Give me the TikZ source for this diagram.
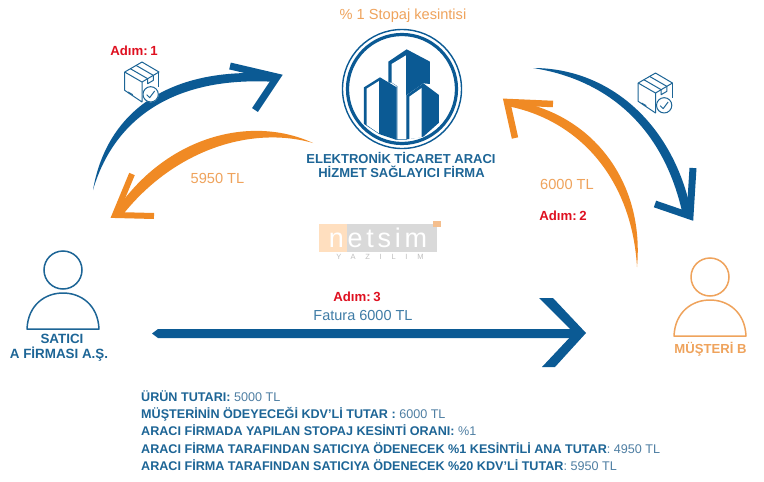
\documentclass[tikz,border=0pt]{standalone}
\usepackage{fontspec}
\setmainfont{Liberation Sans}
\definecolor{brandblue}{HTML}{0B5A94}
\definecolor{brandorange}{HTML}{F08A24}
\definecolor{softorange}{HTML}{EFA35C}
\definecolor{alertred}{HTML}{DF1020}
\definecolor{notegrey}{HTML}{4F7FA3}
\definecolor{headblue}{HTML}{1D6596}
\newcommand{\fs}[2]{\fontsize{#1}{#2}\selectfont}
\tikzset{
 x=1pt,y=-1pt,
 stepred/.style={text=alertred,font=\fs{13.2}{14}\bfseries,inner sep=0pt},
 amount/.style={text=softorange,font=\fs{14.6}{16},inner sep=0pt},
 title/.style={text=headblue,font=\fs{13}{14.5}\bfseries,inner sep=0pt,align=center},
 noteline/.style={anchor=base west,inner sep=0pt,text=notegrey,font=\fs{12.6}{14}},
 pics/boxicon/.style={code={
  \begin{scope}[x=.333pt,y=-.333pt,draw=headblue,line width=1pt,line join=round]
   \draw (-52,-60) -- (0,-90) -- (51,-60) -- (0,-30) -- cycle;
   \draw (-52,-60) -- (-52,-5) -- (0,30) -- (0,-30);
   \draw (51,-60) -- (51,-15);
   \draw (-35,-70) -- (17,-40) (-18,-80) -- (34,-50);
   \draw (17,-40) -- (17,-25) -- (34,-35) -- (34,-50);
   \draw (-42,0) -- (-28,8);
   \fill[white] (26,7) circle (24);
   \draw (26,7) circle (23);
   \draw (14,8) -- (23,17) -- (38,-3);
  \end{scope}}},
 pics/person/.style={code={
  \draw[line width=1.5pt,draw=#1] (0,0) circle (19);
  \draw[line width=1.5pt,draw=#1,line join=round] (-36,59) .. controls (-35,35) and (-18,23) .. (0,23) .. controls (18,23) and (35,35) .. (36,59) -- cycle;
 }}
}
\begin{document}
\begin{tikzpicture}
\useasboundingbox (0,0) rectangle (764,482);
\fill[white] (0,0) rectangle (764,482);

% watermark
\fill[orange!25!white] (319,224) rectangle (347,252);
\fill[black!15] (347,224) rectangle (437,252);
\fill[softorange!70!white] (433,221) rectangle (441,227);
\node[inner sep=0pt,text=white,font=\fs{27}{30}] (wm) at (378,238) {\addfontfeature{LetterSpace=14}netsim};
\node[inner sep=0pt,text=black!25,font=\fs{7.5}{9}] (wmsub) at (380,257) {\addfontfeature{LetterSpace=130}YAZILIM};

% building logo
\coordinate (logoC) at (402,89);
\draw[brandblue,line width=1.4pt] (logoC) circle (59.5);
\draw[brandblue,line width=3.2pt] (logoC) circle (54.5);
\begin{scope}[shift={(280,0)},x=.3333pt,y=-.3333pt]
 \fill[brandblue] (380,148) -- (450,185) -- (450,252) -- (430,250) -- (380,285) -- (380,420) -- (350,420) -- (350,258) -- (335,248) -- (325,248) -- (325,185) -- cycle;
 \fill[white] (335,192) -- (378,166) -- (378,418) -- (352,418) -- (352,258) -- (335,247) -- cycle;
 \fill[brandblue] (300,232) -- (350,262) -- (350,420) -- (297,402) -- (252,372) -- (252,262) -- cycle;
 \fill[white] (260,266) -- (297,243) -- (297,400) -- (260,375) -- cycle;
 \fill[brandblue] (430,250) -- (477,285) -- (477,368) -- (430,410) -- (381,418) -- (381,285) -- cycle;
 \fill[white] (388,290) -- (425,264) -- (425,412) -- (388,417) -- cycle;
\end{scope}

% end points of the connectors
\coordinate (a1s) at (93,190);
\coordinate (a1e) at (277,77);
\coordinate (o1s) at (313,143);
\coordinate (o1e) at (115,215);
\coordinate (a2s) at (533,68);
\coordinate (a2e) at (690,216);
\coordinate (o2s) at (637,267);
\coordinate (o2e) at (507,102);
\coordinate (fs) at (152,333.5);
\coordinate (fe) at (586,333);

% blue upper left arc
\fill[brandblue] (a1s) .. controls (106,115) and (165,65) .. (277,74) -- (277,82)
  .. controls (170,75) and (113,122) .. (a1s) -- cycle;
\draw[brandblue,line width=7pt] (230,66) -- (a1e) -- (255,110);
% orange left arc
\fill[brandorange] (o1s) .. controls (250,114) and (165,137) .. (115,212) -- (121,217)
  .. controls (172,151) and (250,125) .. (o1s) -- cycle;
\draw[brandorange,line width=6pt] (132,174) -- (o1e) -- (154,216);
% blue right arc
\fill[brandblue] (a2s) .. controls (610,68) and (675,125) .. (692,216) -- (683,216)
  .. controls (665,130) and (610,80) .. (a2s) -- cycle;
\draw[brandblue,line width=7pt] (693,168) -- (a2e) -- (655,204);
% orange right arc
\fill[brandorange] (o2s) .. controls (645,180) and (590,110) .. (507,100) -- (507,106)
  .. controls (580,120) and (632,180) .. (o2s) -- cycle;
\draw[brandorange,line width=6.5pt] (553,104) -- (o2e) -- (515,138);
% straight arrow
\fill[brandblue] (fs) -- (158,329) -- (575,329) -- (575,338) -- (158,338) -- cycle;
\fill[brandblue] (539,298) -- (553,298) -- (fe) -- (555,367) -- (542,367) -- (574,333) -- cycle;

% box icons
\pic at (142,92) {boxicon};
\pic at (655.5,103) {boxicon};

% people
\pic at (63,270) {person=headblue};
\pic at (710,277) {person=softorange};

% labels
\node[amount] (stopaj) at (403,16) {\% 1 Stopaj kesintisi};
\node[title] (firma) at (401,165) {ELEKTRONİK TİCARET ARACI\\\hspace*{1pt}HİZMET SAĞLAYICI FİRMA};
\node[stepred] (adim1) at (134,51) {Adım:\hspace{2.5pt}1};
\node[stepred] (adim2) at (563,216) {Adım:\hspace{2.5pt}2};
\node[stepred] (adim3) at (357,297) {Adım:\hspace{2.5pt}3};
\node[amount] (t5950) at (217.5,178) {5950 TL};
\node[amount] (t6000) at (567,184) {6000 TL};
\node[inner sep=0pt,text=headblue!85!white,font=\fs{14.5}{16}] (fatura) at (363,316) {Fatura 6000 TL};
\node[title,font=\fs{13.4}{15}\bfseries] (satici) at (59,347.5) {\hspace*{6pt}SATICI\\A FİRMASI A.Ş.};
\node[inner sep=0pt,text=softorange,font=\fs{13.1}{15}\bfseries] (musteri) at (710.5,349) {MÜŞTERİ B};

% notes
\node[noteline] (n1) at (141,401.5) {\textcolor{headblue}{\bfseries ÜRÜN TUTARI:} 5000 TL};
\node[noteline] (n2) at (141,418.5) {\textcolor{headblue}{\bfseries MÜŞTERİNİN ÖDEYECEĞİ KDV’Lİ TUTAR :} 6000 TL};
\node[noteline] (n3) at (141,435.5) {\textcolor{headblue}{\bfseries ARACI FİRMADA YAPILAN STOPAJ KESİNTİ ORANI:} \%1};
\node[noteline] (n4) at (141,453.5) {\textcolor{headblue}{\bfseries ARACI FİRMA TARAFINDAN SATICIYA ÖDENECEK \%1 KESİNTİLİ ANA TUTAR}: 4950 TL};
\node[noteline] (n5) at (141,470.5) {\textcolor{headblue}{\bfseries ARACI FİRMA TARAFINDAN SATICIYA ÖDENECEK \%20 KDV’Lİ TUTAR}: 5950 TL};
\end{tikzpicture}
\end{document}
